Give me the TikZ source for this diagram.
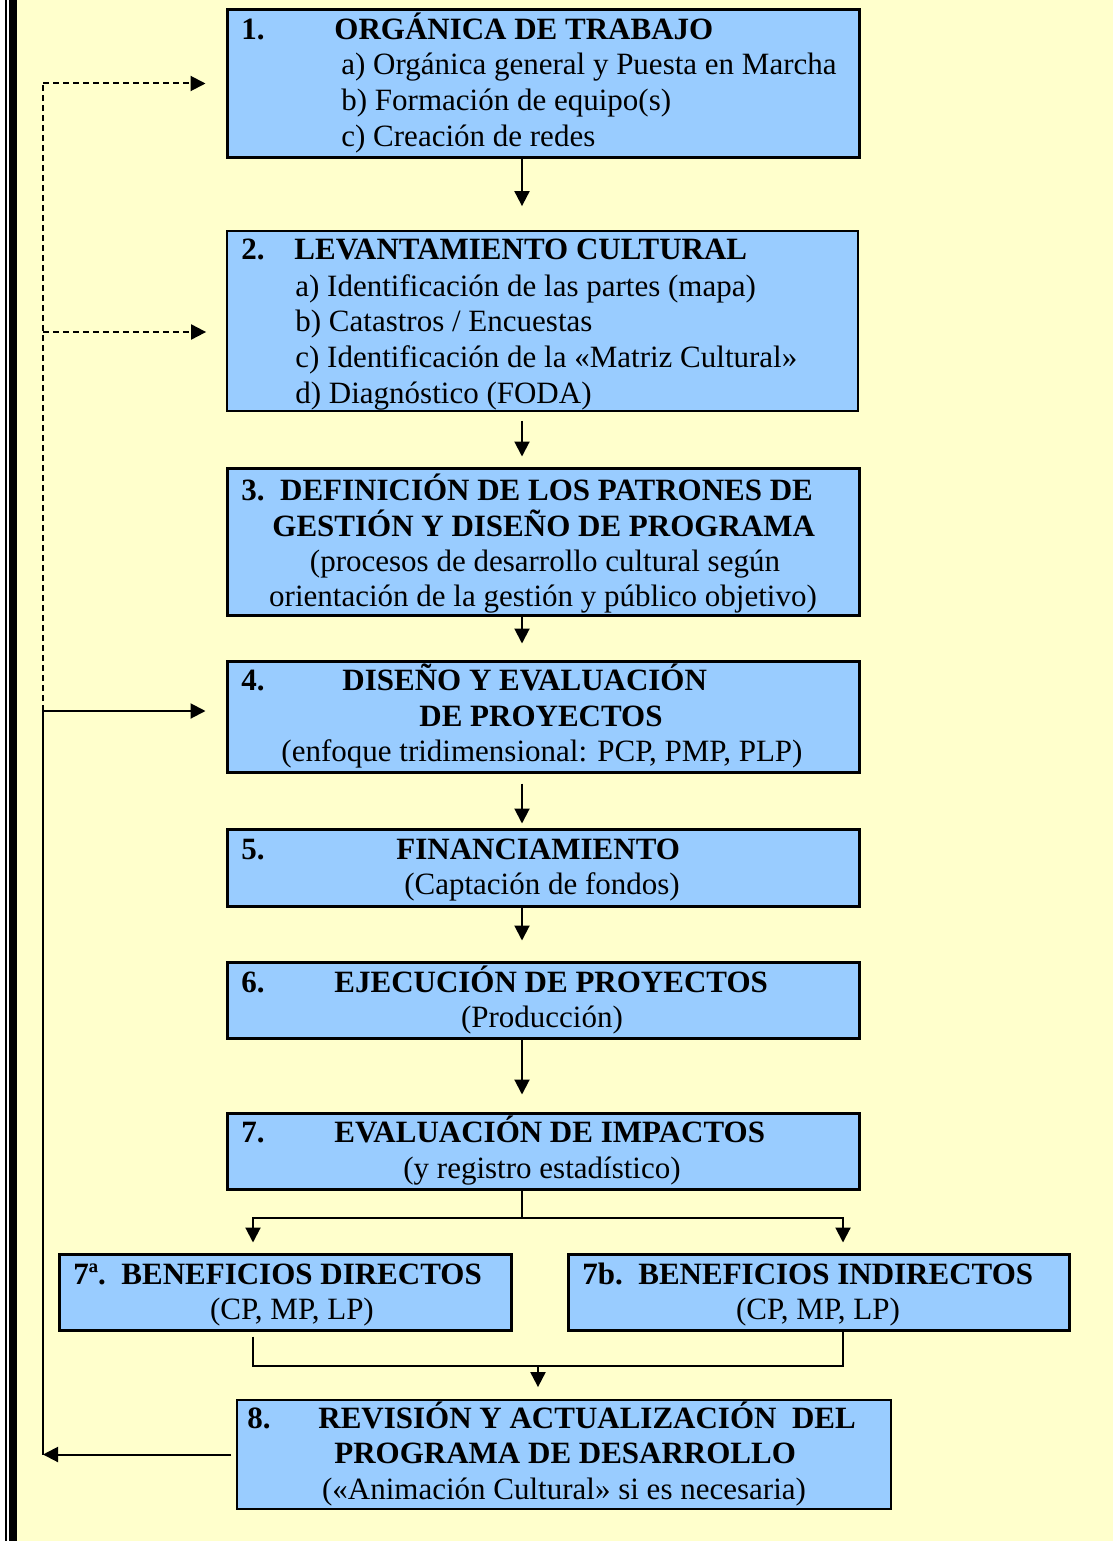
\documentclass[tikz,border=0pt]{standalone}
\usepackage{fontspec}
\setmainfont{Liberation Serif}
\usetikzlibrary{arrows.meta}
\definecolor{boxblue}{RGB}{153, 204, 255}
\definecolor{paper}{RGB}{255, 255, 204}

\begin{document}
\begin{tikzpicture}[x=0.5pt, y=-0.5pt,
        box/.style={draw, fill=boxblue, line width=1.5pt, inner sep=0pt},
        thinbox/.style={box, line width=0.9pt},
        txt/.style={anchor=base west, inner sep=0pt, font=\fontsize{15.5}{18}\selectfont},
        hd/.style={txt, font=\fontsize{15.5}{18}\selectfont\bfseries},
        mid/.style={txt, anchor=base},
        line/.style={line width=1pt},
        arrow/.style={line, -{Triangle[length=7.5pt, width=7.5pt]}},
        feed/.style={dash pattern=on 3pt off 2pt}
    ]
        \fill[paper] (0,0) rectangle (1113,1541);
        \fill[white] (0,0) rectangle (17,1541);
        \fill[black] (5,0) rectangle (7,1541);
        \fill[black] (8.5,0) rectangle (16.5,1541);
        \useasboundingbox (0,0) rectangle (1113,1541);

        \node[box, minimum width=316pt, minimum height=73.5pt] (b1) at (543,83.5) {};
        \node[thinbox, minimum width=315.5pt, minimum height=90pt] (b2) at (542.5,321) {};
        \node[box, minimum width=316pt, minimum height=73.5pt] (b3) at (543,541.5) {};
        \node[box, minimum width=316pt, minimum height=55.5pt] (b4) at (543,716.5) {};
        \node[box, minimum width=316pt, minimum height=38.5pt] (b5) at (543,867.5) {};
        \node[box, minimum width=316pt, minimum height=38pt] (b6) at (543,1000) {};
        \node[box, minimum width=316pt, minimum height=38pt] (b7) at (543,1151) {};
        \node[box, minimum width=226pt, minimum height=38pt] (b7a) at (285,1292) {};
        \node[box, minimum width=250.5pt, minimum height=38pt] (b7b) at (818.5,1292) {};
        \node[thinbox, minimum width=327pt, minimum height=54.5pt] (b8) at (564,1454.5) {};

        \node[hd] (n1) at (241,40) {1.};
        \node[hd] (t1) at (334,40) {ORGÁNICA DE TRABAJO};
        \node[txt] (t1a) at (341,75) {a) Orgánica general y Puesta en Marcha};
        \node[txt] (t1b) at (341,111) {b) Formación de equipo(s)};
        \node[txt] (t1c) at (341,147) {c) Creación de redes};

        \node[hd] (n2) at (241,259) {2.};
        \node[hd] (t2) at (294,259) {LEVANTAMIENTO CULTURAL};
        \node[txt] (t2a) at (295,296) {a) Identificación de las partes (mapa)};
        \node[txt] (t2b) at (295,331) {b) Catastros / Encuestas};
        \node[txt] (t2c) at (295,367) {c) Identificación de la «Matriz Cultural»};
        \node[txt] (t2d) at (295,403) {d) Diagnóstico (FODA)};

        \node[hd] (t3) at (241,500) {3.\ \ DEFINICIÓN DE LOS PATRONES DE};
        \node[hd] (t3b) at (272,536) {GESTIÓN Y DISEÑO DE PROGRAMA};
        \node[mid] (t3c) at (545,571) {(procesos de desarrollo cultural según};
        \node[mid] (t3d) at (543,606) {orientación de la gestión y público objetivo)};

        \node[hd] (n4) at (241,690) {4.};
        \node[hd] (t4) at (342,690) {DISEÑO Y EVALUACIÓN};
        \node[hd] (t4b) at (419,726) {DE PROYECTOS};
        \node[mid] (t4c) at (542,761) {(enfoque tridimensional: PCP, PMP, PLP)};

        \node[hd] (n5) at (241,859) {5.};
        \node[hd] (t5) at (396,859) {FINANCIAMIENTO};
        \node[mid] (t5b) at (542,894) {(Captación de fondos)};

        \node[hd] (n6) at (241,992) {6.};
        \node[hd] (t6) at (334,992) {EJECUCIÓN DE PROYECTOS};
        \node[mid] (t6b) at (542,1027) {(Producción)};

        \node[hd] (n7) at (241,1142) {7.};
        \node[hd] (t7) at (334,1142) {EVALUACIÓN DE IMPACTOS};
        \node[mid] (t7b) at (542,1178) {(y registro estadístico)};

        \node[hd] (t7a) at (73,1284) {7ª.\ \ BENEFICIOS DIRECTOS};
        \node[mid] (t7a2) at (292,1319) {(CP, MP, LP)};
        \node[hd] (t7bb) at (582,1284) {7b.\ \ BENEFICIOS INDIRECTOS};
        \node[mid] (t7b2) at (818,1319) {(CP, MP, LP)};

        \node[hd] (n8) at (247,1428) {8.};
        \node[hd] (t8) at (318,1428) {REVISIÓN Y ACTUALIZACIÓN\ \ DEL};
        \node[hd] (t8b) at (334,1463) {PROGRAMA DE DESARROLLO};
        \node[mid] (t8c) at (564,1499) {(«Animación Cultural» si es necesaria)};

        \coordinate (spine) at (522,0);
        \draw[arrow, shorten >=12pt] (b1.south -| spine) -- (b2.north -| spine);
        \draw[arrow, shorten <=4.5pt, shorten >=5pt] (b2.south -| spine) -- (b3.north -| spine);
        \draw[arrow, shorten >=8pt] (b3.south -| spine) -- (b4.north -| spine);
        \draw[arrow, shorten <=5pt, shorten >=2pt] (b4.south -| spine) -- (b5.north -| spine);
        \draw[arrow, shorten >=10pt] (b5.south -| spine) -- (b6.north -| spine);
        \draw[arrow, shorten >=8.5pt] (b6.south -| spine) -- (b7.north -| spine);

        \coordinate (forkL) at (253,1218);
        \coordinate (forkR) at (843,1218);
        \draw[line] (b7.south -| spine) -- (spine |- forkL);
        \draw[arrow, shorten >=5pt] (spine |- forkL) -- (forkL) -- (forkL |- b7a.north);
        \draw[arrow, shorten >=5pt] (spine |- forkR) -- (forkR) -- (forkR |- b7b.north);

        \coordinate (joinL) at (253,1366);
        \coordinate (joinR) at (843,1366);
        \coordinate (merge) at (538,1366);
        \draw[line, shorten <=2.5pt] (joinL |- b7a.south) -- (joinL) -- (joinR) -- (joinR |- b7b.south);
        \draw[arrow, shorten >=6pt] (merge) -- (merge |- b8.north);

        \coordinate (rail) at (43,711);
        \coordinate (tap2) at (43,332);
        \draw[arrow, shorten <=2.5pt] (b8.west) -- (b8.west -| rail);
        \draw[line] (b8.west -| rail) -- (rail);
        \draw[arrow, shorten >=10pt] (rail) -- (rail -| b4.west);
        \draw[line, feed] (rail) -- (rail |- b1.west);
        \draw[arrow, feed, shorten >=10pt] (rail |- b1.west) -- (b1.west);
        \draw[arrow, feed, shorten >=10pt] (tap2) -- (tap2 -| b2.west);
    \end{tikzpicture}
\end{document}
